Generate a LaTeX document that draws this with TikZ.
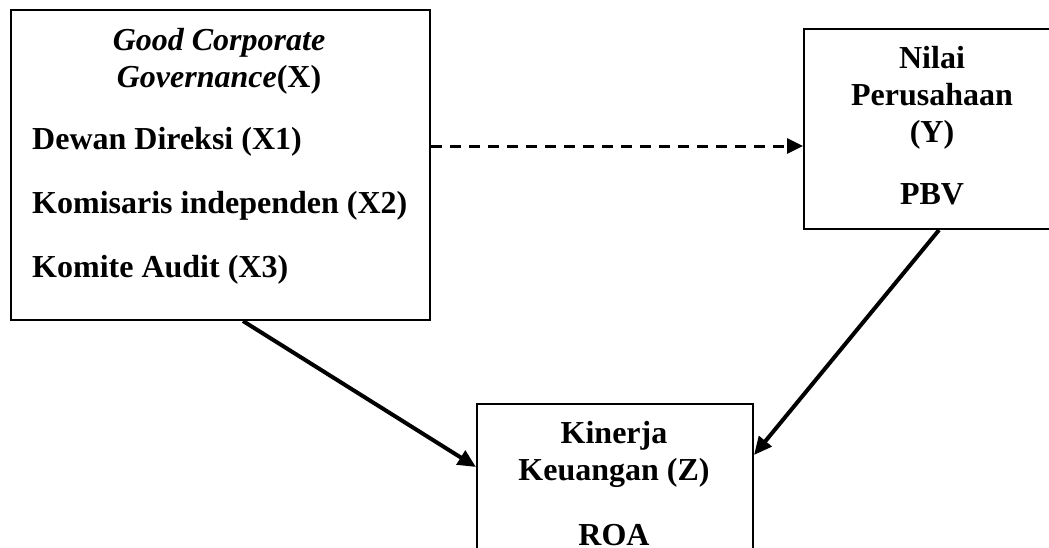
\documentclass[tikz,border=0pt]{standalone}
\usepackage{fontspec}
\setmainfont{Liberation Serif}
\usetikzlibrary{arrows.meta,calc}
\begin{document}
\begin{tikzpicture}[x=1pt,y=-1pt,
  box/.style={draw,line width=2pt,inner sep=0pt,anchor=north west},
  lbl/.style={inner sep=0pt,anchor=base,font=\fontsize{32}{37}\selectfont\bfseries},
  lbll/.style={lbl,anchor=base west},
  solidarrow/.style={line width=4pt,-{Triangle[length=18pt,width=16pt]}},
  dasharrow/.style={line width=3pt,dash pattern=on 11pt off 8pt,-{Triangle[length=16pt,width=15pt]}}]
\useasboundingbox (0,0) rectangle (1049,547);
\fill[white] (0,0) rectangle (1049,547);
% boxes
\node[box,minimum width=419pt,minimum height=310pt] (X) at (10,9) {};
\node[box,minimum width=258pt,minimum height=200pt] (Y) at (803,28) {};
\node[box,minimum width=276pt,minimum height=200pt] (Z) at (476,403) {};
% texts in X
\node[lbl] (x1) at (219,50) {\itshape Good Corporate};
\node[lbl] (x2) at (219,87) {\itshape Governance\upshape(X)};
\node[lbll] (x3) at (32,149) {Dewan Direksi (X1)};
\node[lbll] (x4) at (32,213) {Komisaris independen (X2)};
\node[lbll] (x5) at (32,277) {Komite Audit (X3)};
% texts in Y
\node[lbl] (y1) at (932,68) {Nilai};
\node[lbl] (y2) at (932,105) {Perusahaan};
\node[lbl] (y3) at (932,142) {(Y)};
\node[lbl] (y4) at (932,204) {PBV};
% texts in Z
\node[lbl] (z1) at (614,443) {Kinerja};
\node[lbl] (z2) at (614,480) {Keuangan (Z)};
\node[lbl] (z3) at (614,545) {ROA};
% connectors
\coordinate (xe) at ($(X.north east)+(0,137)$);
\coordinate (yw) at ($(Y.north west)+(0,118)$);
\draw[dasharrow] (xe) -- (yw);
\coordinate (xs) at ($(X.south west)+(233,0)$);
\coordinate (zw) at ($(Z.north west)+(0,64)$);
\draw[solidarrow] (xs) -- (zw);
\coordinate (ys) at ($(Y.south west)+(136,0)$);
\coordinate (ze) at ($(Z.north east)+(0,52)$);
\draw[solidarrow] (ys) -- (ze);
\end{tikzpicture}
\end{document}
